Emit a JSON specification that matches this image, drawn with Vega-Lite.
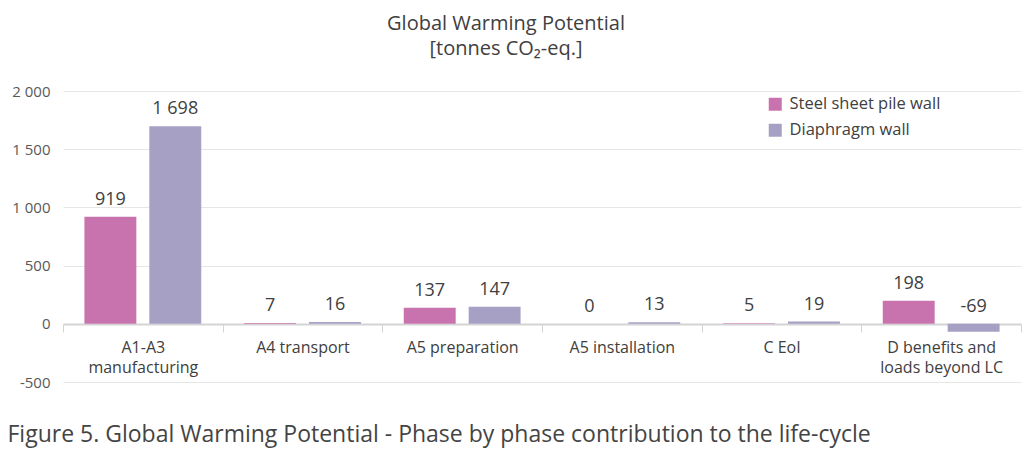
{
  "$schema": "https://vega.github.io/schema/vega-lite/v6.json",
  "width": 958,
  "height": 291,
  "autosize": {"type": "none"},
  "padding": {"left": 63, "top": 91, "right": 3, "bottom": 69},
  "background": "white",
  "config": {
    "font": "Open Sans",
    "view": {"stroke": null},
    "locale": {"number": {"decimal": ".", "thousands": " ", "grouping": [3], "currency": ["", ""], "minus": "-"}}
  },
  "title": {
    "text": "Global Warming Potential",
    "subtitle": "[tonnes CO₂-eq.]",
    "anchor": "middle",
    "dx": -36,
    "fontSize": 20,
    "fontWeight": "normal",
    "color": "#404040",
    "subtitleFontSize": 20,
    "subtitleColor": "#404040",
    "subtitleFontWeight": "normal",
    "subtitlePadding": 5,
    "offset": 25
  },
  "data": {
    "values": [
      {"phase": "A1-A3 manufacturing", "wall": "Steel sheet pile wall", "value": 919},
      {"phase": "A1-A3 manufacturing", "wall": "Diaphragm wall", "value": 1698},
      {"phase": "A4 transport", "wall": "Steel sheet pile wall", "value": 7},
      {"phase": "A4 transport", "wall": "Diaphragm wall", "value": 16},
      {"phase": "A5 preparation", "wall": "Steel sheet pile wall", "value": 137},
      {"phase": "A5 preparation", "wall": "Diaphragm wall", "value": 147},
      {"phase": "A5 installation", "wall": "Steel sheet pile wall", "value": 0},
      {"phase": "A5 installation", "wall": "Diaphragm wall", "value": 13},
      {"phase": "C EoI", "wall": "Steel sheet pile wall", "value": 5},
      {"phase": "C EoI", "wall": "Diaphragm wall", "value": 19},
      {"phase": "D benefits and loads beyond LC", "wall": "Steel sheet pile wall", "value": 198},
      {"phase": "D benefits and loads beyond LC", "wall": "Diaphragm wall", "value": -69}
    ]
  },
  "encoding": {
    "x": {
      "field": "phase",
      "type": "nominal",
      "sort": null,
      "scale": {"paddingInner": 0, "paddingOuter": 0},
      "axis": {
        "title": "Figure 5. Global Warming Potential - Phase by phase contribution to the life-cycle",
        "titleFontSize": 23,
        "titleFontWeight": "normal",
        "titleColor": "#444444",
        "titleAnchor": "start",
        "titleAlign": "left",
        "titleBaseline": "alphabetic",
        "titleX": -56,
        "titleY": 117,
        "offset": -58,
        "domainColor": "#d4d4d4",
        "domainWidth": 2,
        "tickBand": "extent",
        "tickSize": 8,
        "tickColor": "#d4d4d4",
        "tickWidth": 1,
        "labelAngle": 0,
        "labelFontSize": 16,
        "labelColor": "#404040",
        "labelPadding": 7,
        "labelLineHeight": 20,
        "labelExpr": "datum.label == 'A1-A3 manufacturing' ? ['A1-A3', 'manufacturing'] : datum.label == 'D benefits and loads beyond LC' ? ['D benefits and', 'loads beyond LC'] : datum.label"
      }
    },
    "xOffset": {
      "field": "wall",
      "type": "nominal",
      "sort": ["Steel sheet pile wall", "Diaphragm wall"],
      "scale": {"paddingInner": 0.2, "paddingOuter": 0.33}
    }
  },
  "layer": [
    {
      "mark": {"type": "bar"},
      "encoding": {
        "y": {
          "field": "value",
          "type": "quantitative",
          "scale": {"domain": [-500, 2000], "nice": false},
          "axis": {
            "title": null,
            "values": [-500, 0, 500, 1000, 1500, 2000],
            "labelExpr": "datum.value >= 1000 ? floor(datum.value / 1000) + ' ' + (datum.value % 1000 == 0 ? '000' : '500') : datum.value == -500 ? '-500' : '' + datum.value",
            "domain": false,
            "ticks": false,
            "labelFontSize": 15,
            "labelColor": "#595959",
            "labelPadding": 13,
            "gridColor": "#e6e6e6",
            "gridWidth": 1
          }
        },
        "color": {
          "field": "wall",
          "type": "nominal",
          "sort": ["Steel sheet pile wall", "Diaphragm wall"],
          "scale": {"domain": ["Steel sheet pile wall", "Diaphragm wall"], "range": ["#c973ae", "#a5a0c4"]},
          "legend": {
            "title": null,
            "orient": "none",
            "legendX": 704,
            "legendY": 5,
            "symbolType": "square",
            "symbolSize": 169,
            "symbolStrokeWidth": 0,
            "labelFontSize": 16.5,
            "labelColor": "#404040",
            "rowPadding": 9,
            "labelOffset": 6
          }
        }
      }
    },
    {
      "transform": [{"calculate": "max(datum.value, 0)", "as": "labelY"}],
      "mark": {"type": "text", "baseline": "alphabetic", "dy": -12, "fontSize": 18, "color": "#404040"},
      "encoding": {
        "y": {"field": "labelY", "type": "quantitative"},
        "text": {"field": "value", "type": "quantitative", "format": ","}
      }
    }
  ]
}
